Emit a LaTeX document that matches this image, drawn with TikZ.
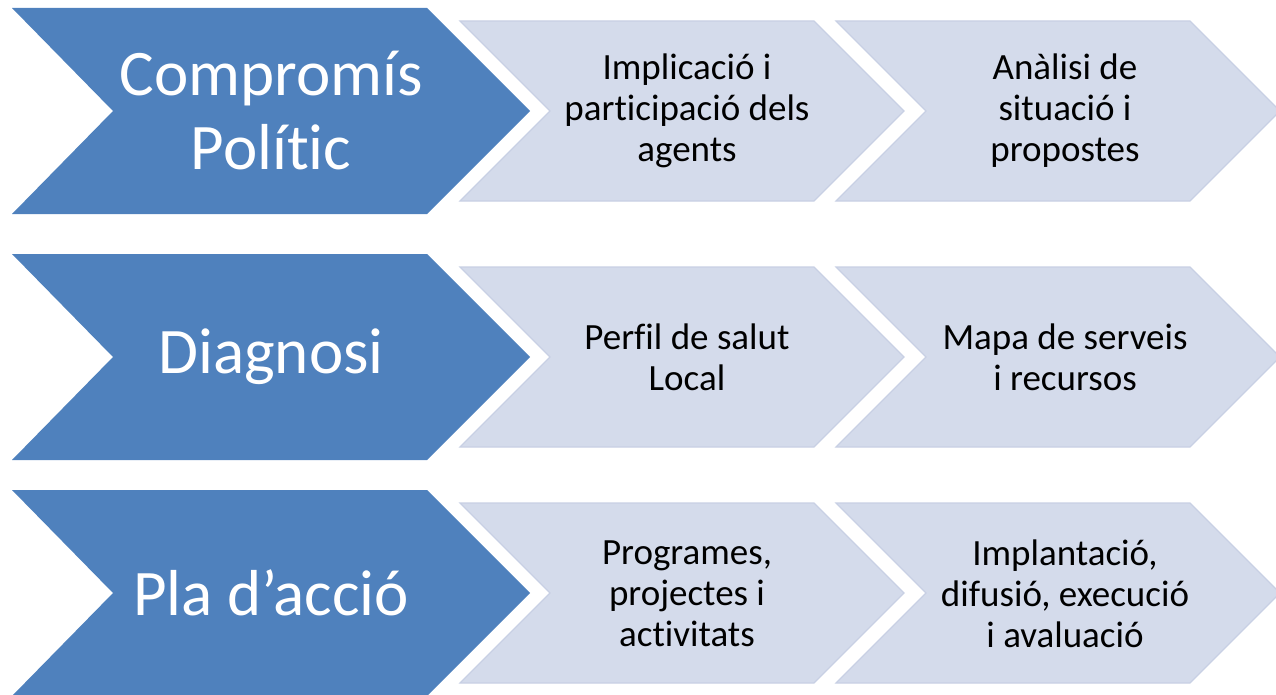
\documentclass[tikz,border=0pt]{standalone}
\usepackage{fontspec}
\setmainfont[Ligatures={TeX,NoCommon}]{Carlito}
\usepackage{tikz}
\definecolor{stepblue}{HTML}{4F81BD}
\definecolor{steplight}{HTML}{D4DBEB}
\definecolor{stepedge}{HTML}{C8D0E4}
\tikzset{
  bigstep/.style={fill=stepblue},
  smallstep/.style={fill=steplight, draw=stepedge, line width=1.2pt},
  bigtxt/.style={text=white, align=center, font=\fontsize{65}{74}\selectfont},
  smalltxt/.style={text=black, align=center, font=\fontsize{37}{41}\selectfont}
}

\begin{document}
\begin{tikzpicture}[x=1pt,y=-1pt]
\useasboundingbox (0,0) rectangle (1276,695);
% chevrons, one row each
\foreach \c in {111,357,593}{
  \fill[bigstep] (12,{\c-103}) -- (427,{\c-103}) -- (530,\c) -- (427,{\c+103}) -- (12,{\c+103}) -- (113,\c) -- cycle;
  \foreach \x in {460,836}
    \draw[smallstep] (\x,{\c-90}) -- ({\x+354},{\c-90}) -- ({\x+444},\c) -- ({\x+354},{\c+90}) -- (\x,{\c+90}) -- ({\x+90},\c) -- cycle;
}
% texts
\node[bigtxt] (pol) at (271,111) {Compromís\\Polític};
\node[bigtxt] (diag) at (271,357) {Diagnosi};
\node[bigtxt] (pla) at (271,593) {Pla d’acció};
\node[smalltxt] (impl) at (687,111) {Implicació i\\participació dels\\agents};
\node[smalltxt] (anal) at (1065,111) {Anàlisi de\\situació i\\propostes};
\node[smalltxt] (perf) at (687,357) {Perfil de salut\\Local};
\node[smalltxt] (mapa) at (1065,357) {Mapa de serveis\\i recursos};
\node[smalltxt] (prog) at (687,594) {Programes,\\projectes i\\activitats};
\node[smalltxt] (impt) at (1065,594) {Implantació,\\difusió, execució\\i avaluació};
\end{tikzpicture}
\end{document}
